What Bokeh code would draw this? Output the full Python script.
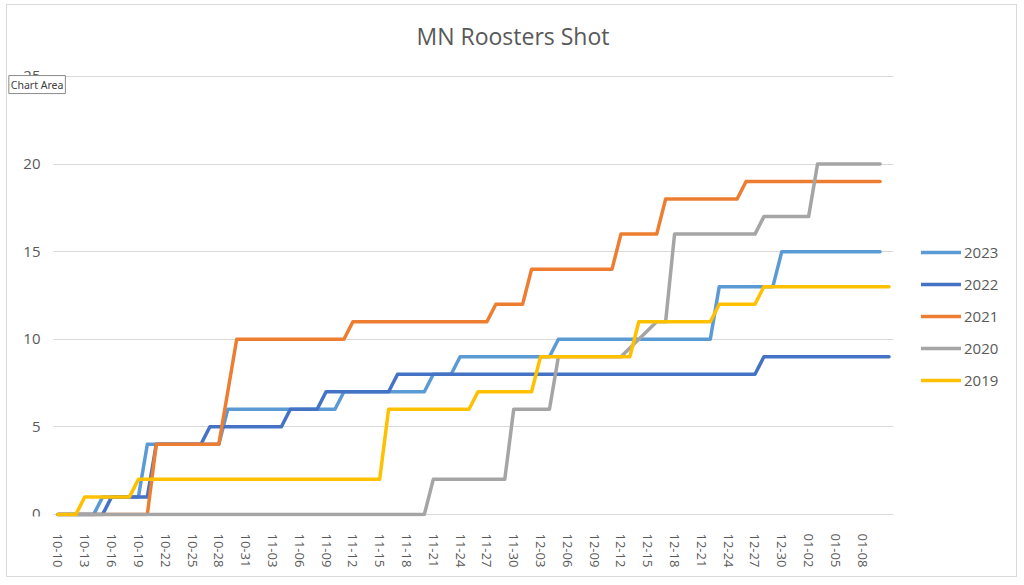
import pandas as pd
from bokeh.plotting import figure
from bokeh.models import Range1d, FixedTicker, Legend, LegendItem, Label
from bokeh.embed import file_html
from bokeh.resources import INLINE

# shared mm-dd axis for every season
DATES = list(pd.date_range("2023-10-10", "2024-01-11").strftime("%m-%d"))

# cumulative roosters shot, one value per day (None = no entry that day)
Y2023 = [0, 0, 0, 0, 0, 1, 1, 1, 1, 1,
         4, 4, 4, 4, 4, 4, 4, 4, 4, 6,
         6, 6, 6, 6, 6, 6, 6, 6, 6, 6,
         6, 6, 7, 7, 7, 7, 7, 7, 7, 7,
         7, 7, 8, 8, 8, 9, 9, 9, 9, 9,
         9, 9, 9, 9, 9, 9, 10, 10, 10, 10,
         10, 10, 10, 10, 10, 10, 10, 10, 10, 10,
         10, 10, 10, 10, 13, 13, 13, 13, 13, 13,
         13, 15, 15, 15, 15, 15, 15, 15, 15, 15,
         15, 15, 15, None]
Y2022 = [0, 0, 0, 0, 0, 0, 1, 1, 1, 1,
         1, 4, 4, 4, 4, 4, 4, 5, 5, 5,
         5, 5, 5, 5, 5, 5, 6, 6, 6, 6,
         7, 7, 7, 7, 7, 7, 7, 7, 8, 8,
         8, 8, 8, 8, 8, 8, 8, 8, 8, 8,
         8, 8, 8, 8, 8, 8, 8, 8, 8, 8,
         8, 8, 8, 8, 8, 8, 8, 8, 8, 8,
         8, 8, 8, 8, 8, 8, 8, 8, 8, 9,
         9, 9, 9, 9, 9, 9, 9, 9, 9, 9,
         9, 9, 9, 9]
Y2021 = [0, 0, 0, 0, 0, 0, 0, 0, 0, 0,
         0, 4, 4, 4, 4, 4, 4, 4, 4, None,
         10, 10, 10, 10, 10, 10, 10, 10, 10, 10,
         10, 10, 10, 11, 11, 11, 11, 11, 11, 11,
         11, 11, 11, 11, 11, 11, 11, 11, 11, 12,
         12, 12, 12, 14, 14, 14, 14, 14, 14, 14,
         14, 14, 14, 16, 16, 16, 16, 16, 18, 18,
         18, 18, 18, 18, 18, 18, 18, 19, 19, 19,
         19, 19, 19, 19, 19, 19, 19, 19, 19, 19,
         19, 19, 19, None]
Y2020 = [0, 0, 0, 0, 0, 0, 0, 0, 0, 0,
         0, 0, 0, 0, 0, 0, 0, 0, 0, 0,
         0, 0, 0, 0, 0, 0, 0, 0, 0, 0,
         0, 0, 0, 0, 0, 0, 0, 0, 0, 0,
         0, 0, 2, 2, 2, 2, 2, 2, 2, 2,
         2, 6, 6, 6, 6, 6, 9, 9, 9, 9,
         9, 9, 9, 9, None, None, None, 11, 11, 16,
         16, 16, 16, 16, 16, 16, 16, 16, 16, 17,
         17, 17, 17, 17, 17, 20, 20, 20, 20, 20,
         20, 20, 20, None]
Y2019 = [0, 0, 0, 1, 1, 1, 1, 1, 1, 2,
         2, 2, 2, 2, 2, 2, 2, 2, 2, 2,
         2, 2, 2, 2, 2, 2, 2, 2, 2, 2,
         2, 2, 2, 2, 2, 2, 2, 6, 6, 6,
         6, 6, 6, 6, 6, 6, 6, 7, 7, 7,
         7, 7, 7, 7, 9, 9, 9, 9, 9, 9,
         9, 9, 9, 9, 9, 11, 11, 11, 11, 11,
         11, 11, 11, 11, 12, 12, 12, 12, 12, 13,
         13, 13, 13, 13, 13, 13, 13, 13, 13, 13,
         13, 13, 13, 13]

SEASONS = ["2023", "2022", "2021", "2020", "2019"]
VALUES = [Y2023, Y2022, Y2021, Y2020, Y2019]
COLORS = ["#5B9BD5", "#4472C4", "#ED7D31", "#A5A5A5", "#FFC000"]
Y_TICKS = [0, 5, 10, 15, 20, 25]
TITLE = "MN Roosters Shot"

TEXT = "#595959"
FONT = "Open Sans"

# the frame spans the whole chart box so the title, legend and hover tip are
# not clipped; the plot area proper runs from day -0.5 to the last day + 0.5
n = len(DATES)
x0, x1 = -5.65, n + 13.49
p = figure(width=1011, height=573, output_backend="svg", toolbar_location=None,
           x_range=Range1d(x0, x1), y_range=Range1d(-0.12, 29.05),
           min_border_left=0, min_border_right=0, min_border_top=0,
           min_border_bottom=62, margin=(4, 0, 0, 6))
p.styles = {"border": "1px solid #d9d9d9", "box-sizing": "border-box"}
p.outline_line_color = None
p.title.visible = False

p.add_layout(Label(x=(x0 + x1) / 2, y=27.33, text=TITLE, text_align="center",
                   text_baseline="middle", text_font=FONT, text_font_size="23px",
                   text_color=TEXT))

items = []
for name, vals, color in zip(SEASONS, VALUES, COLORS):
    xs = [i for i, v in enumerate(vals) if v is not None]
    ys = [v for v in vals if v is not None]
    r = p.line(xs, ys, line_color=color, line_width=3.5,
               line_join="round", line_cap="round")
    items.append(LegendItem(label=name, renderers=[r]))

legend = Legend(items=items, location=(914, 126), padding=0, margin=0,
                spacing=12, glyph_width=40, glyph_height=20, label_height=20,
                label_standoff=3, border_line_color=None, background_fill_alpha=0,
                label_text_font=FONT, label_text_font_size="15px",
                label_text_color=TEXT)
p.add_layout(legend)

p.xgrid.visible = False
p.ygrid.grid_line_color = "#d9d9d9"
p.ygrid.ticker = FixedTicker(ticks=Y_TICKS)
if hasattr(p.ygrid[0], "cross_bounds"):
    p.ygrid.cross_bounds = (-0.5, n - 0.5)

p.yaxis.fixed_location = -0.5
p.yaxis.ticker = FixedTicker(ticks=Y_TICKS)
p.yaxis.axis_line_color = None
p.yaxis.major_tick_line_color = None
p.yaxis.minor_tick_line_color = None
p.yaxis.major_label_standoff = 7
p.yaxis.major_label_text_font = FONT
p.yaxis.major_label_text_font_size = "15px"
p.yaxis.major_label_text_color = TEXT

x_ticks = list(range(0, n - 1, 3))
p.xaxis.ticker = FixedTicker(ticks=x_ticks)
p.xaxis.major_label_overrides = {i: DATES[i] for i in x_ticks}
p.xaxis.major_label_orientation = "vertical"
p.xaxis.axis_line_color = None
p.xaxis.major_tick_line_color = None
p.xaxis.minor_tick_line_color = None
p.xaxis.major_label_standoff = 11
p.xaxis.major_label_text_font = FONT
p.xaxis.major_label_text_font_size = "13px"
p.xaxis.major_label_text_color = TEXT

# Excel hover tip that sits over the "25" label in the screenshot
tip = Label(x=-5.5, y=25.05, text="Chart Area", text_align="left",
            text_baseline="top", text_font="Noto Sans", text_font_size="10.5px",
            text_color="#404040", background_fill_color="white",
            border_line_color="#8a8a8a", padding=2)
p.add_layout(tip)

open("out.html", "w").write(file_html(p, INLINE))
